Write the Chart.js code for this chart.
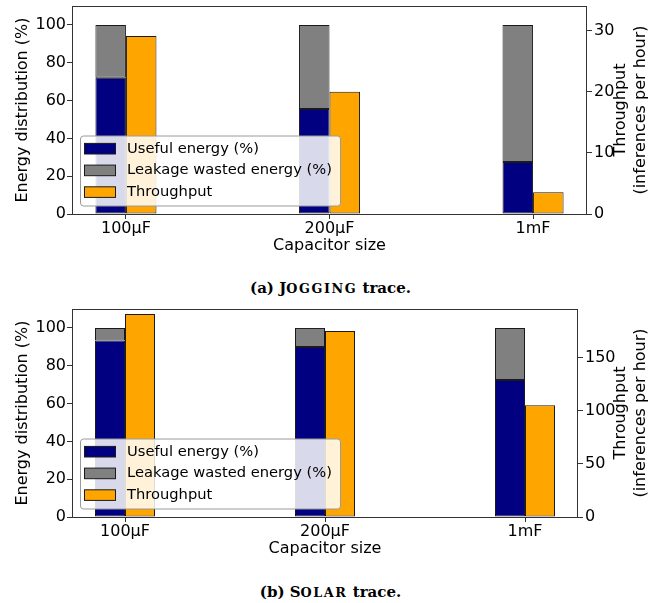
<!DOCTYPE html>
<html>
<head>
<meta charset="utf-8">
<script src="https://cdn.jsdelivr.net/npm/chart.js@4.4.1/dist/chart.umd.min.js"></script>
<style>
  body { margin: 0; background: #fff; width: 657px; height: 603px; overflow: hidden; }
  .panel { position: absolute; left: 0; }
  .caption { position: absolute; left: 0; width: 661px; text-align: center; font-family: "DejaVu Serif"; font-weight: bold; font-size: 15px; line-height: 20px; color: #000; }
  .sc { text-transform: uppercase; font-size: 0.85em; letter-spacing: 1.6px; }
</style>
</head>
<body>
<canvas id="chartJogging" class="panel" width="657" height="260" style="top:0"></canvas>
<div class="caption" style="top:278px">(a) J<span class="sc">ogging</span> trace.</div>
<canvas id="chartSolar" class="panel" width="657" height="263" style="top:300px"></canvas>
<div class="caption" style="top:582px">(b) S<span class="sc">olar</span> trace.</div>
<script>
// categorías y valores
const capacitors = ["100μF", "200μF", "1mF"];

const joggingUseful = [72, 55.5, 27.5];
const joggingLeakage = [28, 44.5, 72.5];
const joggingThroughput = [29.1, 20, 3.55];

const solarUseful = [93.3, 89.9, 72.4];
const solarLeakage = [6.7, 10.1, 27.6];
const solarThroughput = [191.3, 175.3, 105.3];

const energyTicks = [0, 20, 40, 60, 80, 100];
const joggingThroughputTicks = [0, 10, 20, 30];
const solarThroughputTicks = [0, 50, 100, 150];

Chart.defaults.font.family = "'DejaVu Sans'";
Chart.defaults.font.size = 16;
Chart.defaults.color = "#000";

const fuente = { family: "'DejaVu Sans'", size: 16 };
const colorEje = "#333";

const marco = {
    id: "marco",
    afterDatasetsDraw(chart) {
        // leyenda dentro del área, abajo a la izquierda
        const { ctx, chartArea: a } = chart;
        const w = 260, h = 70;
        const x0 = a.left + 8.5, y0 = a.bottom - 8 - h;
        ctx.save();
        ctx.beginPath();
        ctx.roundRect(x0, y0, w, h, 3);
        ctx.fillStyle = "rgba(255, 255, 255, 0.85)";
        ctx.fill();
        ctx.strokeStyle = "#9a9a9a";
        ctx.lineWidth = 1;
        ctx.stroke();
        ctx.font = "14.7px 'DejaVu Sans'";
        ctx.textBaseline = "middle";
        chart.data.datasets.forEach((ds, i) => {
            const cy = y0 + 12.7 + i * 21.7;
            ctx.fillStyle = ds.backgroundColor;
            ctx.fillRect(x0 + 4, cy - 5.3, 31, 10.6);
            ctx.strokeStyle = "#1a1a1a";
            ctx.strokeRect(x0 + 4, cy - 5.3, 31, 10.6);
            ctx.fillStyle = "#000";
            ctx.fillText(ds.label, x0 + 46.5, cy);
        });
        ctx.restore();
    },
    afterDraw(chart) {
        const { ctx, chartArea: a, width } = chart;
        ctx.save();
        ctx.strokeStyle = colorEje;
        ctx.lineWidth = 1;
        ctx.strokeRect(a.left + 0.5, a.top + 0.5, a.right - a.left - 1, a.bottom - a.top);
        // título del eje derecho, leído de abajo hacia arriba
        ctx.translate(width - 36, (a.top + a.bottom) / 2);
        ctx.rotate(-Math.PI / 2);
        ctx.font = "16px 'DejaVu Sans'";
        ctx.textAlign = "center";
        ctx.textBaseline = "middle";
        ctx.fillStyle = "#000";
        ctx.fillText("Throughput", 0, 0);
        ctx.fillText("(inferences per hour)", 0, 20);
        ctx.restore();
    }
};

function crearGrafico(id, util, fuga, rendimiento, ticksDerecha, maxDerecha, anchoDerecha, margenSup) {
    const puntos = arr => arr.map((v, i) => ({ x: i, y: v }));
    return new Chart(document.getElementById(id), {
        type: "bar",
        data: {
            datasets: [
                {
                    label: "Useful energy (%)",
                    data: puntos(util),
                    backgroundColor: "#000080",
                    stack: "energia",
                    yAxisID: "y"
                },
                {
                    label: "Leakage wasted energy (%)",
                    data: puntos(fuga),
                    backgroundColor: "#808080",
                    stack: "energia",
                    yAxisID: "y"
                },
                {
                    label: "Throughput",
                    data: puntos(rendimiento),
                    backgroundColor: "#FFA500",
                    stack: "rendimiento",
                    yAxisID: "y1"
                }
            ]
        },
        options: {
            responsive: false,
            animation: false,
            layout: { padding: { top: margenSup, left: 0, right: 0, bottom: 0 } },
            datasets: {
                bar: {
                    borderColor: "#1a1a1a",
                    borderWidth: 1,
                    borderSkipped: false,
                    categoryPercentage: 0.3,
                    barPercentage: 1
                }
            },
            plugins: {
                legend: { display: false },
                tooltip: { enabled: false }
            },
            scales: {
                x: {
                    type: "linear",
                    min: -0.265,
                    max: 2.265,
                    offset: false,
                    stacked: true,
                    afterBuildTicks: s => { s.ticks = capacitors.map((c, i) => ({ value: i })); },
                    ticks: {
                        callback: v => capacitors[v],
                        font: fuente,
                        padding: 0,
                        maxRotation: 0,
                        autoSkip: false
                    },
                    grid: { offset: false, drawOnChartArea: false, tickLength: 5, color: colorEje },
                    border: { display: false },
                    title: {
                        display: true,
                        text: "Capacitor size",
                        font: fuente,
                        padding: { top: 0, bottom: 5 }
                    },
                    afterFit: s => { s.height = 46; s.paddingLeft = 0; s.paddingRight = 0; }
                },
                y: {
                    position: "left",
                    min: 0,
                    max: 110,
                    stacked: true,
                    afterBuildTicks: s => { s.ticks = energyTicks.map(v => ({ value: v })); },
                    ticks: { font: fuente, padding: 1 },
                    grid: { drawOnChartArea: false, tickLength: 5, color: colorEje },
                    border: { display: false },
                    title: {
                        display: true,
                        text: "Energy distribution (%)",
                        font: fuente,
                        padding: { top: 13, bottom: 0 }
                    },
                    afterFit: s => { s.width = 72; s.paddingTop = 0; s.paddingBottom = 0; }
                },
                y1: {
                    position: "right",
                    min: 0,
                    max: maxDerecha,
                    stacked: true,
                    afterBuildTicks: s => { s.ticks = ticksDerecha.map(v => ({ value: v })); },
                    ticks: { font: fuente, padding: 2 },
                    grid: { drawOnChartArea: false, tickLength: 5, color: colorEje },
                    border: { display: false },
                    afterFit: s => { s.width = anchoDerecha; s.paddingTop = 0; s.paddingBottom = 0; }
                }
            }
        },
        plugins: [marco]
    });
}

crearGrafico("chartJogging", joggingUseful, joggingLeakage, joggingThroughput,
    joggingThroughputTicks, 34, 70, 6);
crearGrafico("chartSolar", solarUseful, solarLeakage, solarThroughput,
    solarThroughputTicks, 196, 79, 9);
</script>
</body>
</html>
